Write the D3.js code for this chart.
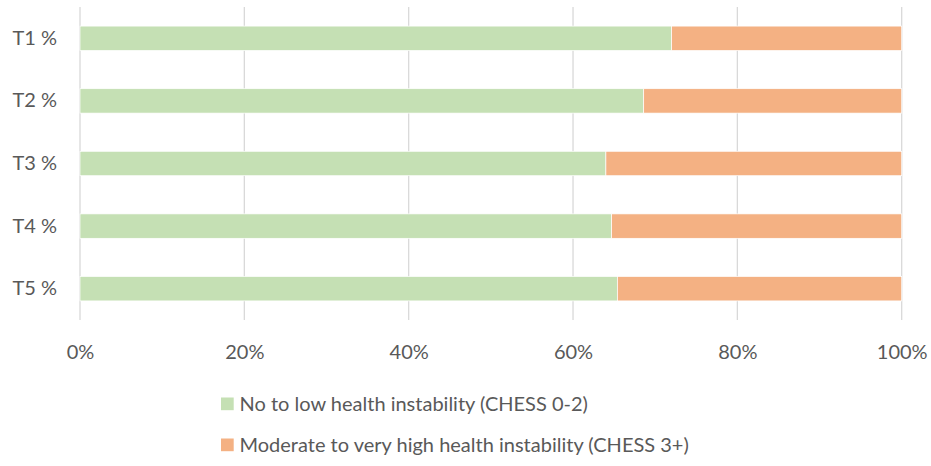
<!DOCTYPE html>
<html><head><meta charset="utf-8">
<script src="https://cdn.jsdelivr.net/npm/d3@7"></script>
<style>body{margin:0;background:#fff}text{font-family:Lato,"Open Sans",sans-serif;fill:#595959}</style>
</head><body><svg id="c" width="931" height="466"></svg>
<script>
const categories = ["T1 %","T2 %","T3 %","T4 %","T5 %"];
const lowValues = [72.0, 68.6, 64.0, 64.7, 65.4];
const highValues = [28.0, 31.4, 36.0, 35.3, 34.6];
const seriesNames = ["No to low health instability (CHESS 0-2)","Moderate to very high health instability (CHESS 3+)"];
const seriesColors = ["#C5E0B4","#F4B183"];
const xTicks = [0,20,40,60,80,100];

const svg = d3.select("#c");
const x = d3.scaleLinear().domain([0,100]).range([80,901.7]);
const y = d3.scaleBand().domain(categories).range([7,320]).paddingInner(0.61).paddingOuter(0.305);

const grid = svg.append("g");
grid.selectAll("line").data(xTicks).join("line")
  .attr("x1",d=>x(d)).attr("x2",d=>x(d)).attr("y1",7).attr("y2",320)
  .attr("stroke","#D9D9D9").attr("stroke-width",1.3);

const rows = categories.map((c,i)=>({cat:c, vals:[lowValues[i], highValues[i]]}));
const stack = d3.stack().keys([0,1]).value((d,k)=>d.vals[k]);
const series = stack(rows);
svg.append("g").selectAll("g").data(series).join("g")
  .attr("fill",(d,i)=>seriesColors[i])
  .selectAll("rect").data(d=>d).join("rect")
  .attr("x",d=>x(d[0])).attr("width",d=>x(d[1])-x(d[0]))
  .attr("y",d=>y(d.data.cat)).attr("height",y.bandwidth())
  .attr("stroke","#fff").attr("stroke-width",0.7);

const xAxis = d3.axisBottom(x).tickValues(xTicks).tickFormat(d=>d+"%").tickSize(0).tickPadding(0);
const gx = svg.append("g").attr("transform","translate(0,352)").call(xAxis);
gx.select(".domain").remove();
gx.selectAll("text").attr("dy","0.35em").attr("y",0).style("font-size","20px").style("font-family","Lato,'Open Sans',sans-serif").attr("fill","#595959");

const yAxis = d3.axisLeft(y).tickSize(0).tickPadding(0);
const gy = svg.append("g").attr("transform","translate(57,0)").call(yAxis);
gy.select(".domain").remove();
gy.selectAll("text").style("font-size","20px").style("font-family","Lato,'Open Sans',sans-serif").attr("fill","#595959");

const legY = [404, 445];
const leg = svg.append("g").selectAll("g").data(seriesNames).join("g")
  .attr("transform",(d,i)=>`translate(221,${legY[i]})`);
leg.append("rect").attr("x",0).attr("y",-6.5).attr("width",12.7).attr("height",12.7).attr("fill",(d,i)=>seriesColors[i]);
leg.append("text").attr("x",18.5).attr("dy","0.35em").style("font-size","20px").text(d=>d);
</script></body></html>
